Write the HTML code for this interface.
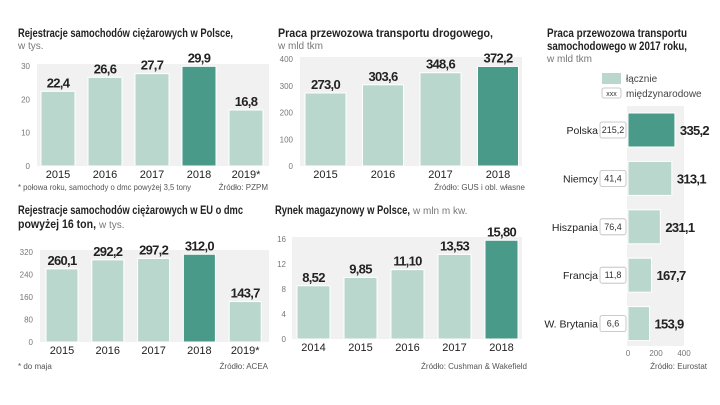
<!DOCTYPE html>
<html><head><meta charset="utf-8"><style>
body{margin:0;background:#fff;}
svg{display:block;font-family:"Liberation Sans",sans-serif;}
.t{font-weight:bold;font-size:12px;fill:#222;}
.s{font-size:10px;fill:#777;}
.tk{font-size:8px;fill:#777;}
.yr{font-size:11px;fill:#222;}
.v{font-family:"Liberation Sans Narrow","Liberation Sans",sans-serif;font-weight:bold;font-size:13px;fill:#222;letter-spacing:-0.7px;}
.n{font-size:8px;fill:#555;}
</style></head><body>
<svg id="c" width="720" height="405" viewBox="0 0 720 405">
<g>
<text class="t" x="18" y="37" textLength="215" lengthAdjust="spacingAndGlyphs">Rejestracje samochodów ciężarowych w Polsce,</text>
<text class="s" x="18" y="49">w tys.</text>
<text class="n" x="18" y="190" textLength="173" lengthAdjust="spacingAndGlyphs">* połowa roku, samochody o dmc powyżej 3,5 tony</text>
<text class="n" x="268" y="190" text-anchor="end">Źródło: PZPM</text>
</g>
<g>
<text class="t" x="278" y="37" textLength="215" lengthAdjust="spacingAndGlyphs">Praca przewozowa transportu drogowego,</text>
<text class="s" x="278" y="49">w mld tkm</text>
<text class="n" x="525" y="190" text-anchor="end">Źródło: GUS i obl. własne</text>
</g>
<g>
<text class="t" x="18" y="214" textLength="225" lengthAdjust="spacingAndGlyphs">Rejestracje samochodów ciężarowych w EU o dmc</text>
<text class="t" x="18" y="228" textLength="78" lengthAdjust="spacingAndGlyphs">powyżej 16 ton,</text>
<text class="s" x="99" y="228">w tys.</text>
<text class="n" x="18" y="369">* do maja</text>
<text class="n" x="268" y="369" text-anchor="end">Źródło: ACEA</text>
</g>
<g>
<text class="t" x="275" y="214" textLength="135" lengthAdjust="spacingAndGlyphs">Rynek magazynowy w Polsce,</text>
<text class="s" x="413" y="214">w mln m kw.</text>
<text class="n" x="527" y="369" text-anchor="end">Źródło: Cushman &amp; Wakefield</text>
</g>
<g>
<text class="t" x="547" y="37" textLength="140" lengthAdjust="spacingAndGlyphs">Praca przewozowa transportu</text>
<text class="t" x="547" y="50" textLength="140" lengthAdjust="spacingAndGlyphs">samochodowego w 2017 roku,</text>
<text class="s" x="547" y="62">w mld tkm</text>
<rect x="602" y="73" width="19" height="11" fill="#b9d7cc"/>
<text class="s" x="626" y="82" style="fill:#444">łącznie</text>
<rect x="602" y="88" width="19" height="10" fill="#fff" stroke="#bbb" stroke-width="0.8" rx="2"/>
<text x="611.5" y="96" text-anchor="middle" style="font-size:7px;fill:#333">xxx</text>
<text class="s" x="626" y="97" style="fill:#444">międzynarodowe</text>
<text class="n" x="707" y="369" text-anchor="end">Źródło: Eurostat</text>
</g>
</svg>
<script>
const svg=document.getElementById('c');
const NS='http://www.w3.org/2000/svg';
function mk(tag,attrs,parent,text){const e=document.createElementNS(NS,tag);for(const k in attrs)e.setAttribute(k,attrs[k]);if(text!==undefined)e.textContent=text;(parent||svg).appendChild(e);return e;}

// Chart 1
const c1Cats=['2015','2016','2017','2018','2019*'];
const c1Vals=[22.4,26.6,27.7,29.9,16.8];
const c1Ticks=[0,10,20,30];
// Chart 2
const c2Cats=['2015','2016','2017','2018'];
const c2Vals=[273.0,303.6,348.6,372.2];
const c2Ticks=[0,100,200,300,400];
// Chart 3
const c3Cats=['2015','2016','2017','2018','2019*'];
const c3Vals=[260.1,292.2,297.2,312.0,143.7];
const c3Ticks=[0,80,160,240,320];
// Chart 4
const c4Cats=['2014','2015','2016','2017','2018'];
const c4Vals=[8.52,9.85,11.10,13.53,15.80];
const c4Ticks=[0,4,8,12,16];
// Chart 5
const c5Cats=['Polska','Niemcy','Hiszpania','Francja','W. Brytania'];
const c5Total=[335.2,313.1,231.1,167.7,153.9];
const c5Intl=[215.2,41.4,76.4,11.8,6.6];
const c5Ticks=[0,200,400];

const LIGHT='#b9d7cc',DARK='#4a9a8a',BG='#f1f1f1';
function fmt(v,d){return v.toFixed(d).replace('.',',');}

function vchart(name,cats,vals,ticks,o){
  const g=mk('g',{});
  
  
  const max=ticks[ticks.length-1];
  const y=v=>o.y0-(v/max)*(o.y0-o.yTop);
  const bg=mk('rect',{x:o.bgX,y:o.yTop-2,width:o.bgW,height:o.y0-o.yTop+2,fill:BG},g);
  
  
  ticks.forEach(t=>{
    const tl=mk('text',{class:'tk',x:o.tickX,y:y(t)+3,'text-anchor':'end'},g,String(t));
    
    
  });
  cats.forEach((c,i)=>{
    const x=o.x0+i*o.step;
    const hl=(o.dark===i);
    const b=mk('rect',{x:x,y:y(vals[i]),width:o.bw,height:o.y0-y(vals[i]),fill:hl?DARK:LIGHT,stroke:'#fff','stroke-width':1},g);
    
    
    const v=mk('text',{class:'v',x:x+o.bw/2,y:y(vals[i])-4,'text-anchor':'middle'},g,fmt(vals[i],o.dec));
    
    
    const yl=mk('text',{class:'yr',x:x+o.bw/2,y:o.y0+12,'text-anchor':'middle'},g,c);
    
    
  });
}
vchart('chart-pl-registrations',c1Cats,c1Vals,c1Ticks,{y0:166,yTop:66,x0:41,step:47,bw:34,tickX:30,bgX:37,bgW:232,dark:3,dec:1});
vchart('chart-road-transport',c2Cats,c2Vals,c2Ticks,{y0:166,yTop:59,x0:305,step:57.5,bw:41,tickX:293,bgX:300,bgW:222,dark:3,dec:1});
vchart('chart-eu-registrations',c3Cats,c3Vals,c3Ticks,{y0:342,yTop:252,x0:46,step:45.8,bw:32,tickX:33,bgX:40,bgW:229,dark:3,dec:1});
vchart('chart-warehouse',c4Cats,c4Vals,c4Ticks,{y0:339,yTop:239,x0:297,step:47,bw:33,tickX:286,bgX:292,bgW:230,dark:4,dec:2});

// Chart 5 horizontal
(function(){
  const g=mk('g',{});
  
  
  const x0=628,max=400,pxMax=56;
  const x=v=>x0+v/max*pxMax;
  const bg=mk('rect',{x:627,y:106,width:57,height:240,fill:BG},g);
  
  
  c5Ticks.forEach(t=>{
    const tl=mk('text',{class:'tk',x:x(t),y:356,'text-anchor':'middle'},g,String(t));
    
    
  });
  c5Cats.forEach((c,i)=>{
    const yT=113+i*48.4,h=34,cy=yT+h/2;
    const b=mk('rect',{x:x0,y:yT,width:x(c5Total[i])-x0,height:h,fill:i===0?DARK:LIGHT,stroke:'#fff','stroke-width':1},g);
    
    
    const v=mk('text',{class:'v',x:x(c5Total[i])+5,y:cy+5},g,fmt(c5Total[i],1));
    
    
    const bx=mk('rect',{x:600,y:cy-8,width:26,height:16,fill:'#fff',stroke:'#bbb','stroke-width':0.8,rx:2},g);
    
    
    const iv=mk('text',{x:613,y:cy+3,'text-anchor':'middle',style:'font-size:9px;fill:#333'},g,fmt(c5Intl[i],1));
    
    
    const cl=mk('text',{x:598,y:cy+4,'text-anchor':'end',style:'font-size:10.5px;fill:#222'},g,c);
    
    
  });
})();
</script>
</body></html>
